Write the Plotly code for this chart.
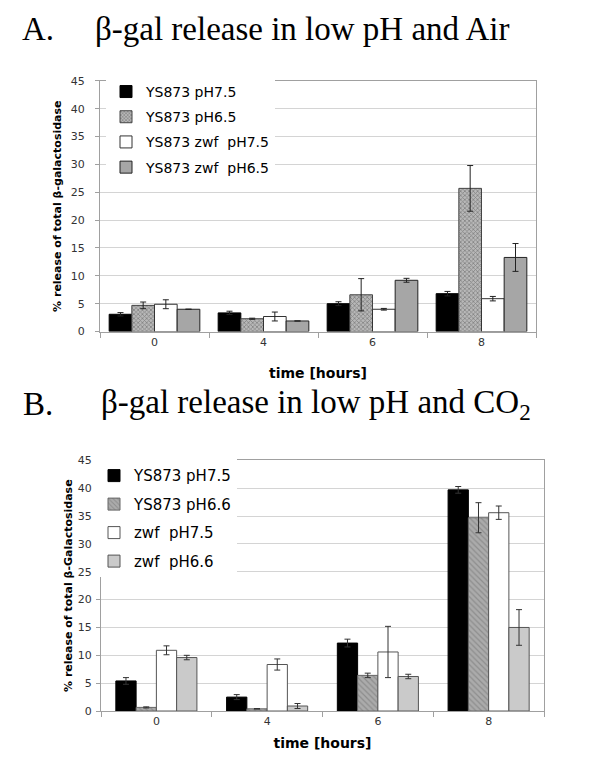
import plotly.graph_objects as go

# ---------------- data ----------------
hours = ["0", "4", "6", "8"]

# Panel A (air)
a_names = ["YS873 pH7.5", "YS873 pH6.5", "YS873 zwf  pH7.5", "YS873 zwf  pH6.5"]
a_ys_75 = [3.1, 3.35, 5.0, 6.8]
a_ys_75_err = [0.3, 0.3, 0.35, 0.4]
a_ys_65 = [4.7, 2.3, 6.6, 25.7]
a_ys_65_err = [0.6, 0.1, 2.9, 4.1]
a_zwf_75 = [4.9, 2.7, 4.0, 5.9]
a_zwf_75_err = [0.8, 0.8, 0.15, 0.4]
a_zwf_65 = [4.0, 1.9, 9.2, 13.3]
a_zwf_65_err = [0.0, 0.0, 0.35, 2.5]

# Panel B (CO2)
b_names = ["YS873 pH7.5", "YS873 pH6.6", "zwf  pH7.5", "zwf  pH6.6"]
b_ys_75 = [5.4, 2.5, 12.2, 39.7]
b_ys_75_err = [0.6, 0.45, 0.7, 0.6]
b_ys_66 = [0.65, 0.4, 6.4, 34.7]
b_ys_66_err = [0.1, 0.05, 0.4, 2.7]
b_zwf_75 = [10.9, 8.35, 10.6, 35.6]
b_zwf_75_err = [0.8, 1.0, 4.6, 1.2]
b_zwf_66 = [9.6, 0.9, 6.2, 15.0]
b_zwf_66_err = [0.4, 0.45, 0.4, 3.2]

y_ticks = [0, 5, 10, 15, 20, 25, 30, 35, 40, 45]

# ---------------- styles ----------------
W, H = 600, 770
AX_FONT = "DejaVu Sans"
SERIF = "Liberation Serif"


def px_x(v):
    return v / W


def px_y(v):
    return 1 - v / H


a_styles = [
    dict(color="#000000", line=dict(color="#000000", width=1)),
    dict(color="#a8a8a8", line=dict(color="#444444", width=1),
         pattern=dict(shape="x", size=3, solidity=0.45, fgcolor="#4d4d4d", bgcolor="#b8b8b8")),
    dict(color="#ffffff", line=dict(color="#333333", width=1)),
    dict(color="#a6a6a6", line=dict(color="#222222", width=1)),
]
b_styles = [
    dict(color="#000000", line=dict(color="#000000", width=1)),
    dict(color="#a0a0a0", line=dict(color="#666666", width=1),
         pattern=dict(shape="\\", size=4, solidity=0.3, fgcolor="#6f6f6f", bgcolor="#ababab")),
    dict(color="#ffffff", line=dict(color="#555555", width=1)),
    dict(color="#cacaca", line=dict(color="#555555", width=1)),
]

# bar widths / offsets in category units (per panel)
a_w = 0.208
b_w = 0.183

fig = go.Figure()

a_vals = [(a_ys_75, a_ys_75_err), (a_ys_65, a_ys_65_err),
          (a_zwf_75, a_zwf_75_err), (a_zwf_65, a_zwf_65_err)]
for i, (name, (vals, errs), st) in enumerate(zip(a_names, a_vals, a_styles)):
    fig.add_trace(go.Bar(
        x=hours, y=vals, name=name, marker=st,
        width=a_w, offset=(i - 2) * a_w,
        error_y=dict(type="data", array=errs, visible=True, color="#222222", thickness=1, width=3),
        xaxis="x", yaxis="y", legend="legend", legendgroup=f"a{i}",
    ))

b_vals = [(b_ys_75, b_ys_75_err), (b_ys_66, b_ys_66_err),
          (b_zwf_75, b_zwf_75_err), (b_zwf_66, b_zwf_66_err)]
for i, (name, (vals, errs), st) in enumerate(zip(b_names, b_vals, b_styles)):
    fig.add_trace(go.Bar(
        x=hours, y=vals, name=name, marker=st,
        width=b_w, offset=(i - 2) * b_w,
        error_y=dict(type="data", array=errs, visible=True, color="#333333", thickness=1, width=3),
        xaxis="x2", yaxis="y2", legend="legend2", legendgroup=f"b{i}",
    ))

axis_common = dict(
    showline=True, linecolor="#a0a0a0", linewidth=1, mirror=True,
    tickfont=dict(family=AX_FONT, size=11, color="#333333"),
)

ytitle_font = dict(family=AX_FONT, size=11, color="#000000")
xtitle_font = dict(family=AX_FONT, size=14, color="#000000")

fig.update_layout(
    width=W, height=H,
    margin=dict(l=0, r=0, t=0, b=0),
    paper_bgcolor="white", plot_bgcolor="white",
    barmode="overlay",
    showlegend=True,
    xaxis=dict(
        domain=[px_x(92), px_x(528)], anchor="y", type="category",
        ticks="outside", tickson="boundaries", ticklen=5, tickcolor="#a0a0a0",
        title=dict(text="<b>time [hours]</b>", font=xtitle_font, standoff=20),
        **axis_common,
    ),
    yaxis=dict(
        domain=[px_y(323), px_y(68)], anchor="x", range=[0, 45], tickvals=y_ticks,
        ticks="outside", ticklen=4, tickcolor="#a0a0a0",
        showgrid=True, gridcolor="#d4d4d4", gridwidth=1, zeroline=False,
        ticklabelstandoff=8,
        title=dict(text="<b>% release of total β-galactosidase</b>", font=ytitle_font, standoff=6),
        **axis_common,
    ),
    xaxis2=dict(
        domain=[px_x(93), px_x(536)], anchor="y2", type="category",
        ticks="outside", tickson="boundaries", ticklen=5, tickcolor="#a0a0a0",
        title=dict(text="<b>time [hours]</b>", font=xtitle_font, standoff=10),
        **axis_common,
    ),
    yaxis2=dict(
        domain=[px_y(709), px_y(454)], anchor="x2", range=[0, 45], tickvals=y_ticks,
        ticks="outside", ticklen=4, tickcolor="#a0a0a0",
        showgrid=True, gridcolor="#d4d4d4", gridwidth=1, zeroline=False,
        ticklabelstandoff=2,
        title=dict(text="<b>% release of total β-Galactosidase</b>", font=ytitle_font, standoff=2),
        **axis_common,
    ),
    legend=dict(
        x=px_x(98), y=px_y(63), xanchor="left", yanchor="top",
        bgcolor="white", borderwidth=0,
        font=dict(family=AX_FONT, size=14, color="#000000"),
        tracegroupgap=4, traceorder="grouped",
    ),
    legend2=dict(
        x=px_x(86), y=px_y(453), xanchor="left", yanchor="top",
        bgcolor="white", borderwidth=0,
        font=dict(family=AX_FONT, size=15, color="#000000"),
        tracegroupgap=6, traceorder="grouped",
    ),
    annotations=[
        dict(text="A.", x=px_x(12), y=px_y(15), xref="paper", yref="paper",
             xanchor="left", yanchor="middle", showarrow=False,
             font=dict(family=SERIF, size=33, color="#000000")),
        dict(text="β-gal release in low pH and Air", x=px_x(85), y=px_y(15),
             xref="paper", yref="paper", xanchor="left", yanchor="middle", showarrow=False,
             font=dict(family=SERIF, size=33, color="#000000")),
        dict(text="B.", x=px_x(13), y=px_y(397), xref="paper", yref="paper",
             xanchor="left", yanchor="middle", showarrow=False,
             font=dict(family=SERIF, size=33, color="#000000")),
        dict(text="β-gal release in low pH and CO<sub>2</sub>", x=px_x(91), y=px_y(397),
             xref="paper", yref="paper", xanchor="left", yanchor="middle", showarrow=False,
             font=dict(family=SERIF, size=33, color="#000000")),
    ],
)

fig.write_html("out.html")
